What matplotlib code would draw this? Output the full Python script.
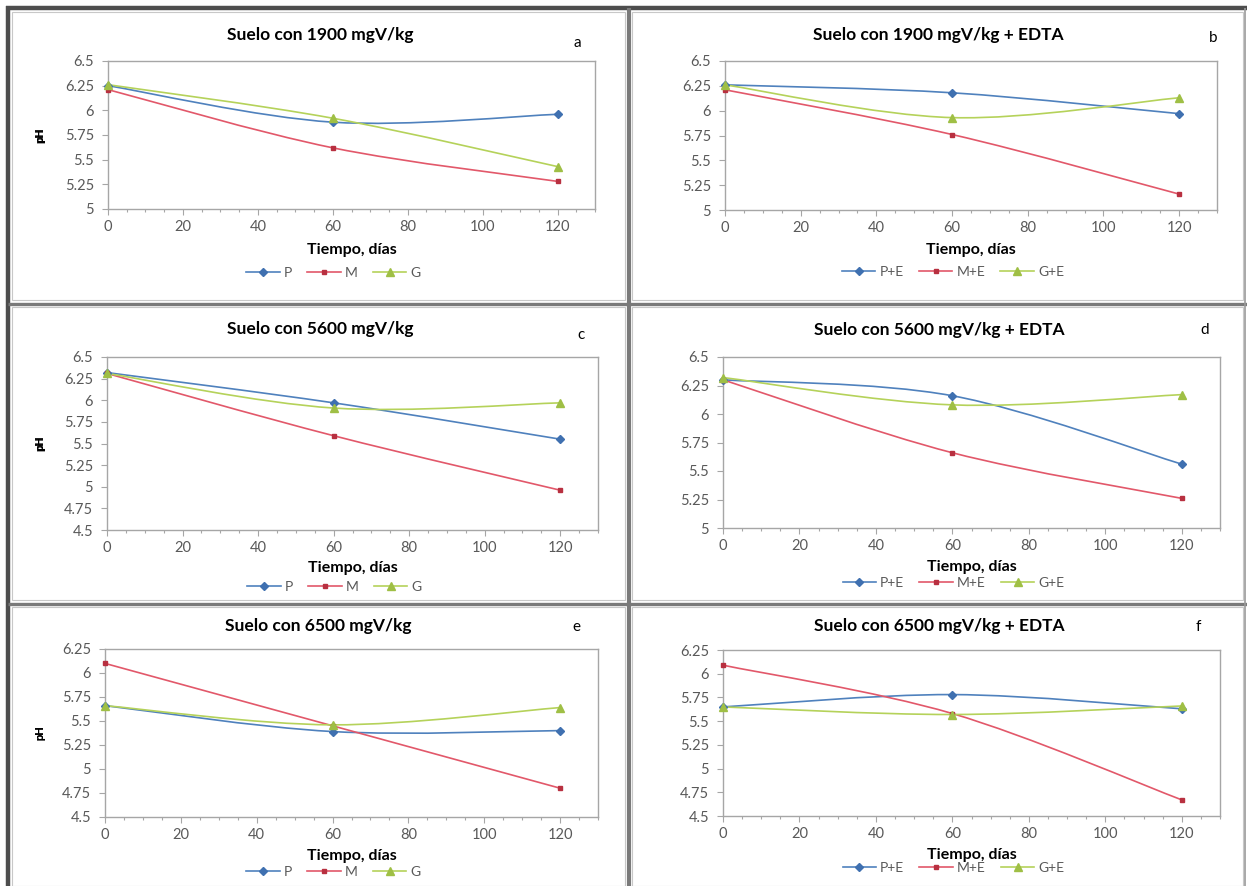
import matplotlib
matplotlib.use("Agg")
import matplotlib.pyplot as plt
from matplotlib.path import Path
from matplotlib.patches import PathPatch, Rectangle
from matplotlib.lines import Line2D
from matplotlib.ticker import MultipleLocator, FixedLocator, FuncFormatter

plt.rcParams['font.family'] = ['Lato', 'DejaVu Sans']

# ---------------- data ----------------
dias = [0, 60, 120]

titles = ["Suelo con 1900 mgV/kg", "Suelo con 1900 mgV/kg + EDTA",
          "Suelo con 5600 mgV/kg", "Suelo con 5600 mgV/kg + EDTA",
          "Suelo con 6500 mgV/kg", "Suelo con 6500 mgV/kg + EDTA"]
letters = ["a", "b", "c", "d", "e", "f"]
labels_plain = ["P", "M", "G"]
labels_edta = ["P+E", "M+E", "G+E"]

# panel a
a_P = [6.25, 5.88, 5.96]
a_M = [6.21, 5.62, 5.28]
a_G = [6.26, 5.92, 5.43]
# panel b
b_P = [6.26, 6.18, 5.97]
b_M = [6.21, 5.76, 5.16]
b_G = [6.26, 5.93, 6.13]
# panel c
c_P = [6.32, 5.97, 5.55]
c_M = [6.31, 5.59, 4.96]
c_G = [6.31, 5.91, 5.97]
# panel d
d_P = [6.30, 6.16, 5.56]
d_M = [6.30, 5.66, 5.26]
d_G = [6.32, 6.08, 6.17]
# panel e
e_P = [5.66, 5.39, 5.40]
e_M = [6.10, 5.45, 4.80]
e_G = [5.66, 5.46, 5.64]
# panel f
f_P = [5.65, 5.78, 5.63]
f_M = [6.09, 5.58, 4.67]
f_G = [5.65, 5.57, 5.66]

panel_series = [(a_P, a_M, a_G), (b_P, b_M, b_G), (c_P, c_M, c_G),
                (d_P, d_M, d_G), (e_P, e_M, e_G), (f_P, f_M, f_G)]
ylims = [(5, 6.5), (5, 6.5), (4.5, 6.5), (5, 6.5), (4.5, 6.25), (4.5, 6.25)]

# ---------------- styling ----------------
W, H = 1247, 886
fig = plt.figure(figsize=(W / 100, H / 100), dpi=100)
fig.patch.set_facecolor("white")

colors = ["#4f81bd", "#e2586a", "#b5d25a"]
markers = ["D", "s", "^"]
msizes = [4.2, 2.8, 5.2]
mcolors = ["#3f70b0", "#b83040", "#9fbf45"]
tick_color = "#595959"

# axes boxes in pixels: left, right, top, bottom
boxes = [(108, 595, 61, 209), (725, 1217, 61, 210),
         (107, 598, 357, 530), (723, 1220, 357, 528),
         (105, 598, 649, 817), (723, 1220, 650, 816)]
title_pos = [(320, 35), (938, 35), (320, 329), (939, 330), (318, 626), (939, 626)]
letter_pos = [(577, 43), (1213, 38), (581, 335), (1205, 330), (576, 627), (1198, 627)]
xlabel_y = [250, 250, 568, 567, 856, 855]
legend_y = [273, 272, 587, 583, 872, 868]


def fx(px):
    return px / W


def fy(py):
    return 1 - py / H


def smooth_path(xs, ys):
    pts = list(zip(xs, ys))
    n = len(pts)
    verts = [pts[0]]
    codes = [Path.MOVETO]
    for i in range(n - 1):
        p0 = pts[i - 1] if i > 0 else pts[i]
        p1 = pts[i]
        p2 = pts[i + 1]
        p3 = pts[i + 2] if i + 2 < n else pts[i + 1]
        c1 = (p1[0] + (p2[0] - p0[0]) / 6, p1[1] + (p2[1] - p0[1]) / 6)
        c2 = (p2[0] - (p3[0] - p1[0]) / 6, p2[1] - (p3[1] - p1[1]) / 6)
        verts += [c1, c2, p2]
        codes += [Path.CURVE4] * 3
    return Path(verts, codes)


def fmt(v, pos):
    s = ("%.2f" % v).rstrip("0").rstrip(".")
    return s


for k in range(6):
    l, r, t, b = boxes[k]
    ax = fig.add_axes([fx(l), fy(b), fx(r) - fx(l), fy(t) - fy(b)])
    ax.set_xlim(0, 130)
    ax.set_ylim(*ylims[k])
    for sp in ax.spines.values():
        sp.set_color("#a6a6a6")
        sp.set_linewidth(1.0)
    ax.xaxis.set_major_locator(FixedLocator([0, 20, 40, 60, 80, 100, 120]))
    ax.xaxis.set_minor_locator(MultipleLocator(5))
    ax.yaxis.set_major_locator(MultipleLocator(0.25))
    ax.yaxis.set_major_formatter(FuncFormatter(fmt))
    ax.tick_params(axis="both", which="major", direction="out", length=4,
                   width=0.8, color="#a6a6a6", labelsize=10.5, labelcolor=tick_color)
    ax.tick_params(axis="x", which="minor", direction="out", length=2.5,
                   width=0.8, color="#a6a6a6")
    ax.tick_params(axis="x", which="major", pad=4)
    ax.tick_params(axis="y", which="major", pad=6)

    labs = labels_edta if k % 2 == 1 else labels_plain
    handles = []
    for j, series in enumerate(panel_series[k]):
        path = smooth_path(dias, series)
        ax.add_patch(PathPatch(path, fill=False, edgecolor=colors[j], lw=1.2,
                               zorder=2))
        ax.plot(dias, series, linestyle="none", marker=markers[j],
                markersize=msizes[j], color=mcolors[j], zorder=3,
                clip_on=False)
        handles.append(Line2D([], [], color=colors[j], lw=1.2,
                              marker=markers[j], markersize=msizes[j],
                              markerfacecolor=mcolors[j],
                              markeredgecolor=mcolors[j], label=labs[j]))

    ax.set_ylabel("pH", fontsize=8, fontweight="bold")
    ax.yaxis.set_label_coords(-(l - 45) / (r - l), 0.5)

    cx = (l + r) / 2
    fig.text(fx(cx), fy(xlabel_y[k]), "Tiempo, días", ha="center", va="center",
             fontsize=11.5, fontweight="bold")
    fig.text(fx(title_pos[k][0]), fy(title_pos[k][1]), titles[k], ha="center",
             va="center", fontsize=12.5, fontweight="bold")
    fig.text(fx(letter_pos[k][0]), fy(letter_pos[k][1]), letters[k], ha="center",
             va="center", fontsize=11)
    leg = fig.legend(handles=handles, loc="center",
                     bbox_to_anchor=(fx(cx - 18), fy(legend_y[k])), ncol=3,
                     frameon=False, fontsize=10, handlelength=2.4,
                     handletextpad=0.3, columnspacing=1.1, borderpad=0)
    for txt in leg.get_texts():
        txt.set_color(tick_color)

# ---------------- frames ----------------
inner = [(12, 12, 625, 300), (632, 12, 1243, 300),
         (12, 307, 625, 600), (632, 307, 1243, 600),
         (12, 607, 625, 886), (632, 607, 1243, 886)]
for (x0, y0, x1, y1) in inner:
    fig.add_artist(Rectangle((fx(x0), fy(y1)), fx(x1) - fx(x0), fy(y0) - fy(y1),
                             transform=fig.transFigure, fill=False,
                             edgecolor="#c8c8c8", lw=0.8))


def fline(x0, y0, x1, y1, color, lw):
    fig.add_artist(Line2D([fx(x0), fx(x1)], [fy(y0), fy(y1)],
                          transform=fig.transFigure, color=color, lw=lw,
                          solid_capstyle="butt"))


fline(6, 8, 1247, 8, "#4d4d4d", 3.2)
fline(8, 6, 8, 886, "#4d4d4d", 3.2)
fline(629, 8, 629, 886, "#7a7a7a", 3.0)
fline(8, 304, 1247, 304, "#7a7a7a", 2.4)
fline(8, 604, 1247, 604, "#7a7a7a", 2.4)
fline(1245, 8, 1245, 886, "#9a9a9a", 1.2)

fig.savefig("out.png", dpi=100, facecolor="white")
